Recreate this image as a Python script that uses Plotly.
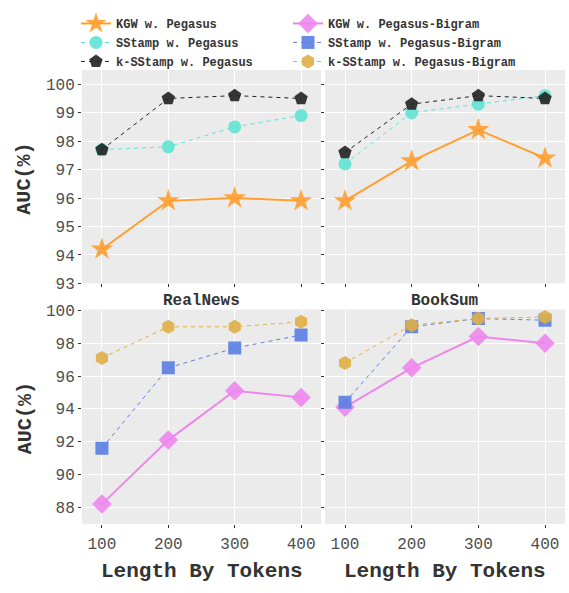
import plotly.graph_objects as go

W, H = 569, 593

lengths = [100, 200, 300, 400]

# Top row: Pegasus watermark variants
rn_kgw_peg = [94.2, 95.9, 96.0, 95.9]
rn_ss_peg = [97.7, 97.8, 98.5, 98.9]
rn_kss_peg = [97.7, 99.5, 99.6, 99.5]
bs_kgw_peg = [95.9, 97.3, 98.4, 97.4]
bs_ss_peg = [97.2, 99.0, 99.3, 99.6]
bs_kss_peg = [97.6, 99.3, 99.6, 99.5]

# Bottom row: Pegasus-Bigram variants
rn_kgw_big = [88.2, 92.1, 95.1, 94.7]
rn_ss_big = [91.6, 96.5, 97.7, 98.5]
rn_kss_big = [97.1, 99.0, 99.0, 99.3]
bs_kgw_big = [94.1, 96.5, 98.4, 98.0]
bs_ss_big = [94.4, 99.0, 99.5, 99.4]
bs_kss_big = [96.8, 99.1, 99.5, 99.6]

names_peg = ["KGW w. Pegasus", "SStamp w. Pegasus", "k-SStamp w. Pegasus"]
names_big = ["KGW w. Pegasus-Bigram", "SStamp w. Pegasus-Bigram", "k-SStamp w. Pegasus-Bigram"]
facets = ["RealNews", "BookSum"]

MONO = "Liberation Mono"

styles_peg = [
    dict(color="#FF9F2F", symbol="star", size=17, dash="solid", width=2),
    dict(color="#5FE3D3", symbol="circle", size=13, dash="4px,4px", width=1),
    dict(color="#222222", symbol="pentagon", size=14, dash="4px,4px", width=1),
]
styles_big = [
    dict(color="#EE86EE", symbol="diamond", size=15, dash="solid", width=2),
    dict(color="#5B7FE2", symbol="square", size=13, dash="4px,4px", width=1),
    dict(color="#E0AF45", symbol="hexagon", size=14, dash="4px,4px", width=1),
]

fig = go.Figure()

def px_x(a, b):
    return [a / W, b / W]

def px_y(top, bot):
    return [1 - bot / H, 1 - top / H]

panels = [
    ("x", "y", [rn_kgw_peg, rn_ss_peg, rn_kss_peg], styles_peg, names_peg, "legend", True),
    ("x2", "y2", [bs_kgw_peg, bs_ss_peg, bs_kss_peg], styles_peg, names_peg, "legend", False),
    ("x3", "y3", [rn_kgw_big, rn_ss_big, rn_kss_big], styles_big, names_big, "legend2", True),
    ("x4", "y4", [bs_kgw_big, bs_ss_big, bs_kss_big], styles_big, names_big, "legend2", False),
]

for xa, ya, series, sts, nms, lg, show in panels:
    for vals, st, nm in zip(series, sts, nms):
        fig.add_trace(go.Scatter(
            x=lengths, y=vals, mode="lines+markers", name=nm,
            xaxis=xa, yaxis=ya, legend=lg, showlegend=show,
            line=dict(color=st["color"], dash=st["dash"], width=st["width"]),
            marker=dict(symbol=st["symbol"], size=st["size"], color=st["color"],
                        opacity=0.9, line=dict(width=0)),
        ))

xdom_l = px_x(82, 321)
xdom_r = px_x(325, 565)
ydom_t = px_y(65, 285)
ydom_b = px_y(312, 533)

common_x = dict(range=[70, 430], tickvals=lengths, showgrid=True, gridcolor="white",
                gridwidth=1.2, zeroline=False, ticks="outside", ticklen=3,
                tickcolor="#333333", tickwidth=1, ticklabelstandoff=2,
                tickfont=dict(family=MONO, size=16, color="#4D4D4D"), showline=False)
common_y = dict(showgrid=True, gridcolor="white", gridwidth=1.2, zeroline=False,
                ticks="outside", ticklen=3, tickcolor="#333333", tickwidth=1,
                tickfont=dict(family=MONO, size=16, color="#4D4D4D"), showline=False)

top_range = [93.0, 100.5]
bot_range = [87.0, 100.05]

fig.update_layout(
    width=W, height=H,
    margin=dict(l=0, r=0, t=0, b=0),
    paper_bgcolor="white",
    plot_bgcolor="#EBEBEB",
    xaxis=dict(domain=xdom_l, anchor="y", showticklabels=False, **common_x),
    yaxis=dict(domain=ydom_t, anchor="x", range=top_range, dtick=1, tick0=93, **common_y),
    xaxis2=dict(domain=xdom_r, anchor="y2", showticklabels=False, **common_x),
    yaxis2=dict(domain=ydom_t, anchor="x2", range=top_range, dtick=1, tick0=93,
                showticklabels=False, **common_y),
    xaxis3=dict(domain=xdom_l, anchor="y3", showticklabels=True, **common_x),
    yaxis3=dict(domain=ydom_b, anchor="x3", range=bot_range, dtick=2, tick0=88, **common_y),
    xaxis4=dict(domain=xdom_r, anchor="y4", showticklabels=True, **common_x),
    yaxis4=dict(domain=ydom_b, anchor="x4", range=bot_range, dtick=2, tick0=88,
                showticklabels=False, **common_y),
    legend=dict(x=76 / W, y=1 - 2 / H, xanchor="left", yanchor="top",
                orientation="v", bgcolor="rgba(255,255,255,0)",
                font=dict(family=MONO, size=12, color="#333333", weight="bold"),
                tracegroupgap=0, itemwidth=30),
    legend2=dict(x=288 / W, y=1 - 2 / H, xanchor="left", yanchor="top",
                 orientation="v", bgcolor="rgba(255,255,255,0)",
                 font=dict(family=MONO, size=12, color="#333333", weight="bold"),
                 tracegroupgap=0, itemwidth=30),
    showlegend=True,
)

annotations = []
for xd, name in zip([xdom_l, xdom_r], facets):
    annotations.append(dict(text="<b>%s</b>" % name, x=(xd[0] + xd[1]) / 2, y=1 - 303 / H,
                            xref="paper", yref="paper", showarrow=False,
                            xanchor="center", yanchor="middle",
                            font=dict(family=MONO, size=16, color="#333333")))
for xd in [xdom_l, xdom_r]:
    annotations.append(dict(text="<b>Length By Tokens</b>", x=(xd[0] + xd[1]) / 2, y=1 - 582 / H,
                            xref="paper", yref="paper", showarrow=False,
                            xanchor="center", yanchor="middle",
                            font=dict(family=MONO, size=21, color="#333333")))
for yc in [177, 424]:
    annotations.append(dict(text="<b>AUC(%)</b>", x=25 / W, y=1 - yc / H,
                            xref="paper", yref="paper", showarrow=False, textangle=-90,
                            xanchor="center", yanchor="middle",
                            font=dict(family=MONO, size=20, color="#333333")))
fig.update_layout(annotations=annotations)

fig.write_html("out.html", config={"displayModeBar": False},
               post_script="document.body.style.margin='0px';document.body.style.overflow='hidden';")
